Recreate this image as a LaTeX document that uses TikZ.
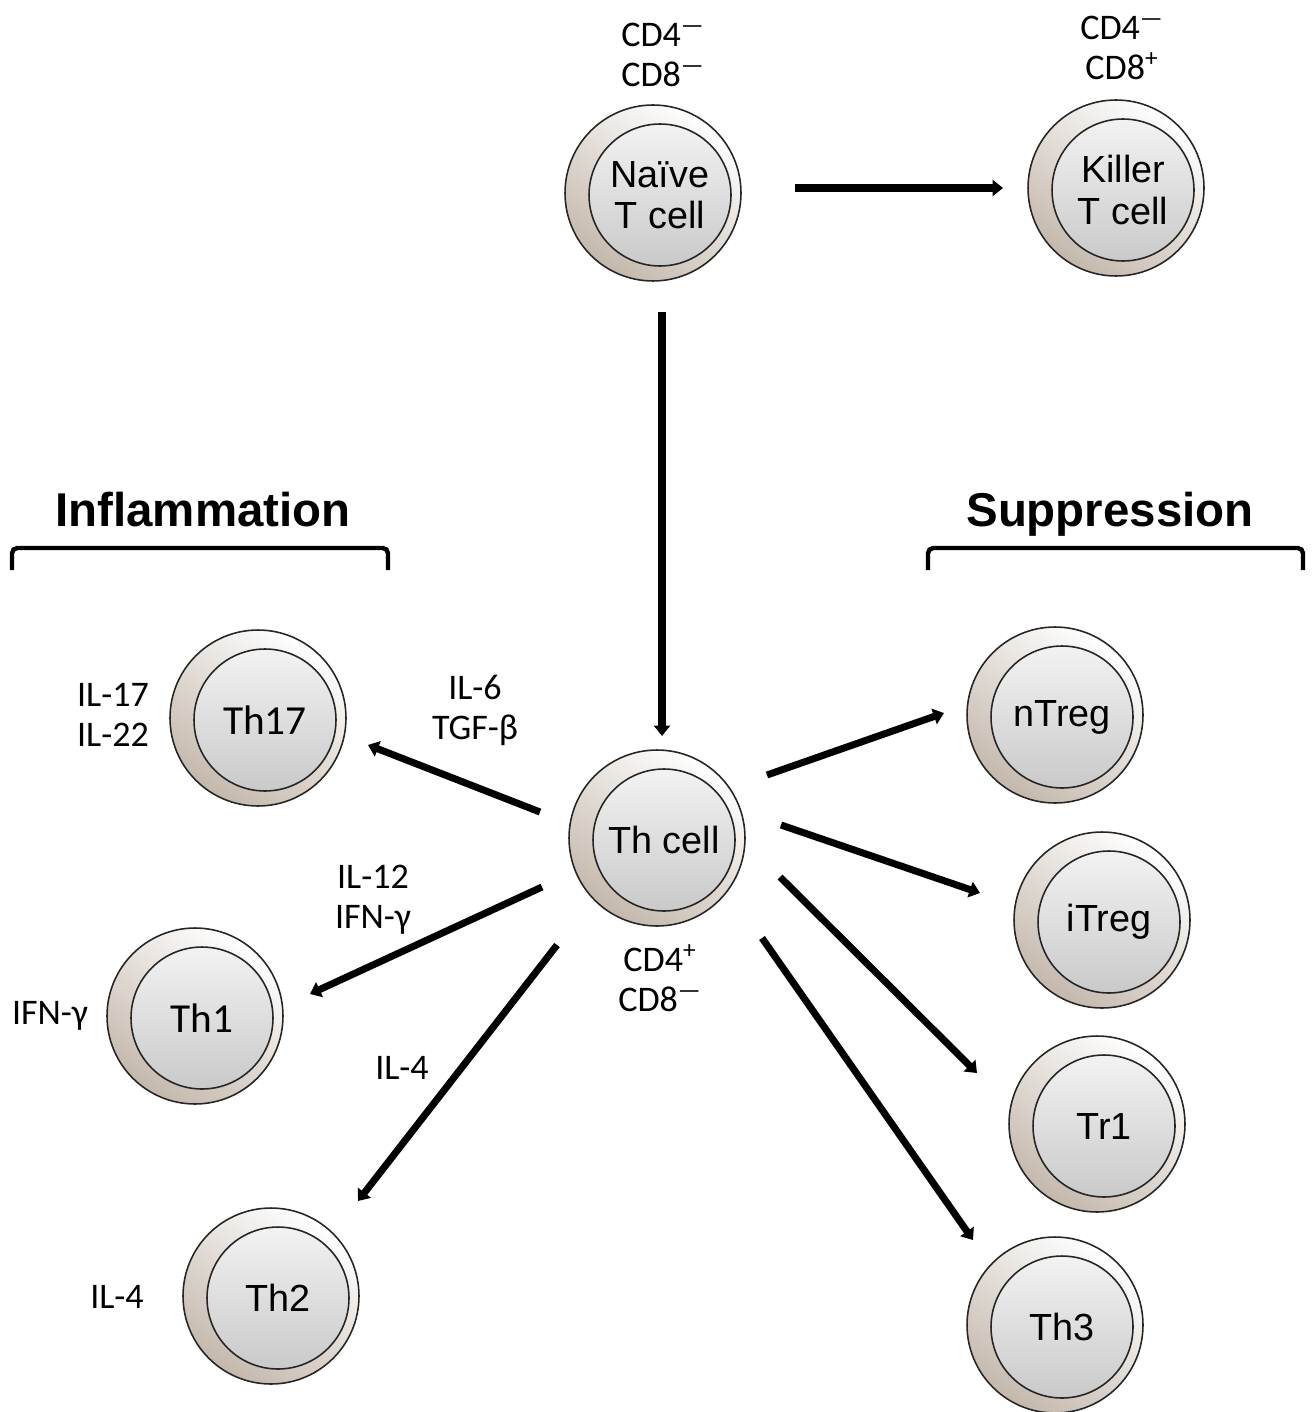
\documentclass[tikz,border=0pt]{standalone}
\usepackage{fontspec}
\setmainfont{Liberation Sans}
\newfontfamily\calfont{Carlito}
\usetikzlibrary{arrows.meta}
\definecolor{cellbeige}{RGB}{196,184,172}
\newcommand\cellarial{\fontsize{21.5}{23.5}\selectfont}
\newcommand\cellcal{\calfont\fontsize{23.5}{26}\selectfont}

\begin{document}
\begin{tikzpicture}[x=0.02cm,y=-0.02cm,
    cellouter/.style={circle,minimum size=3.52cm,inner sep=0pt,draw=black!85,line width=0.9pt,
      top color=white,bottom color=cellbeige,shading angle=-35},
    cellinner/.style={circle,minimum size=2.84cm,inner sep=0pt,draw=black!85,line width=0.9pt,
      top color=black!5,bottom color=black!21,align=center},
    arr/.style={line width=4pt,-{Triangle[width=0.32cm,length=0.21cm]}},
    lbl/.style={font=\calfont\fontsize{20.5}{22.7}\selectfont,align=center},
    head/.style={font=\bfseries\fontsize{27}{30}\selectfont,anchor=base},
    bracket/.style={line width=2.5pt,rounded corners=3pt}]
\useasboundingbox (0,0) rectangle (1314,1412);

% cells
\foreach \nm/\px/\py/\txt/\fnt in {
    naive/653/193/{Naïve\\T cell}/\cellarial,
    killer/1116/188/{Killer\\T cell}/\cellarial,
    th/657/838/{Th cell}/\cellarial,
    th17/258/718/{Th17}/\cellcal,
    th1/195/1016/{Th1}/\cellcal,
    th2/271/1296/{Th2}/\cellarial,
    ntreg/1055/715/{nTreg}/\cellarial,
    itreg/1102/920/{iTreg}/\cellarial,
    tr1/1097/1124/{Tr1}/\cellarial,
    th3/1055/1325/{Th3}/\cellarial}{
  \node[cellouter] (\nm) at (\px,\py) {};
  \node[cellinner,font=\fnt] (\nm-in) at ([shift={(7,2)}]\nm.center) {\txt};
}

% arrows
\draw[arr] ([shift={(142,-5)}]naive.center) -- ([shift={(-113,0)}]killer.center);
\draw[arr] ([shift={(9,119)}]naive.center) -- ([shift={(5,-102)}]th.center);
\draw[arr] ([shift={(-117,-26)}]th.center) -- ([shift={(110,27)}]th17.center);
\draw[arr] ([shift={(-115,49)}]th.center) -- ([shift={(115,-22)}]th1.center);
\draw[arr] ([shift={(-100,107)}]th.center) -- ([shift={(87,-95)}]th2.center);
\draw[arr] ([shift={(110,-63)}]th.center) -- ([shift={(-111,-2)}]ntreg.center);
\draw[arr] ([shift={(124,-13)}]th.center) -- ([shift={(-122,-27)}]itreg.center);
\draw[arr] ([shift={(123,39)}]th.center) -- ([shift={(-120,-51)}]tr1.center);
\draw[arr] ([shift={(105,100)}]th.center) -- ([shift={(-82,-85)}]th3.center);

% markers and cytokines
\node[lbl] (cd-naive) at (663,55) {CD4\textsuperscript{—}\\CD8\textsuperscript{—}};
\node[lbl] (cd-killer) at (1122,48) {CD4\textsuperscript{—}\\CD8\textsuperscript{+}};
\node[lbl] (cd-th) at (660,978) {CD4\textsuperscript{+}\\CD8\textsuperscript{—}};
\node[lbl] (il-th17) at (113,715) {IL-17\\IL-22};
\node[lbl] (ifn-th1) at (50,1016) {IFN-γ};
\node[lbl] (il-th2) at (117,1297) {IL-4};
\node[lbl] (il6) at (475,710) {IL-6\\TGF-β};
\node[lbl] (il12) at (373,900) {IL-12\\IFN-γ};
\node[lbl] (il4) at (402,1068) {IL-4};

% groups
\node[head] (inflam) at (203,526) {Inflammation};
\node[head] (suppr) at (1110,526) {Suppression};
\draw[bracket] (12,570) -- (12,548) -- (388,548) -- (388,570);
\draw[bracket] (928,570) -- (928,548) -- (1303,548) -- (1303,570);
\end{tikzpicture}
\end{document}
